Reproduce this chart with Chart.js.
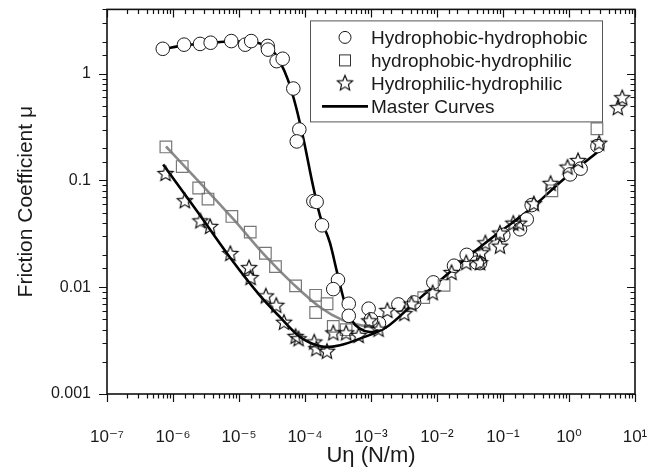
<!DOCTYPE html>
<html>
<head>
<meta charset="utf-8">
<script src="https://cdn.jsdelivr.net/npm/chart.js@4.4.1/dist/chart.umd.min.js"></script>
<style>
  html, body { margin: 0; padding: 0; background: #ffffff; }
  #wrap { width: 663px; height: 473px; position: relative; }
</style>
</head>
<body>
<div id="wrap"><canvas id="c" width="663" height="473"></canvas></div>
<script>
// ---------- data ----------
const seriesNames = ['Hydrophobic-hydrophobic', 'hydrophobic-hydrophilic', 'Hydrophilic-hydrophilic', 'Master Curves'];

const phobicPhobic = [
  [7.0e-7,1.71],[1.47e-6,1.87],[2.57e-6,1.90],[3.72e-6,1.95],[7.64e-6,2.02],[1.24e-5,1.87],
  [1.53e-5,2.02],[2.72e-5,1.82],[2.75e-5,1.68],[3.72e-5,1.31],[4.59e-5,1.38],[6.65e-5,0.726],
  [8.2e-5,0.300],[7.5e-5,0.232],[1.34e-4,0.064],[1.50e-4,0.063],[1.81e-4,0.038],[3.16e-4,0.0117],
  [2.68e-4,0.0096],[4.6e-4,0.0070],[4.6e-4,0.0054],[9.2e-4,0.0063],[1.32e-3,0.0046],[1.0e-3,0.0050],
  [2.6e-3,0.0069],[4.5e-3,0.0072],[8.8e-3,0.0111],[0.0181,0.0159],[0.0282,0.0201],[0.0449,0.0168],
  [0.040,0.0170],[0.101,0.0309],[0.181,0.0349],[0.229,0.0432],[0.272,0.0588],[1.04,0.114],
  [1.50,0.129],[2.7,0.21]
];

const phobicPhilic = [
  [7.8e-7,0.206],[1.38e-6,0.135],[2.45e-6,0.085],[3.39e-6,0.067],[7.8e-6,0.046],[1.48e-5,0.0328],
  [2.51e-5,0.0208],[3.57e-5,0.0156],[7.2e-5,0.0103],[1.45e-4,0.0084],[2.16e-4,0.0070],[1.45e-4,0.0058],
  [2.68e-4,0.0043],[4.2e-4,0.0040],[6.3e-3,0.0080],[0.0128,0.0104],[0.55,0.08],[2.65,0.305]
];

const philicPhilic = [
  [7.7e-7,0.115],[1.51e-6,0.064],[2.6e-6,0.0414],[3.65e-6,0.0367],[7.4e-6,0.0205],[1.42e-5,0.0151],
  [1.5e-5,0.0122],[2.55e-5,0.0082],[3.67e-5,0.0067],[4.8e-5,0.00465],[7.2e-5,0.00343],[8.0e-5,0.00326],
  [1.38e-4,0.00304],[1.49e-4,0.00263],[2.15e-4,0.00249],[2.68e-4,0.0037],[4.2e-4,0.0037],[6.5e-4,0.0035],
  [9.4e-4,0.0048],[1.3e-3,0.0040],[1.77e-3,0.0060],[3.2e-3,0.0056],[4.1e-3,0.0069],[8.6e-3,0.0088],
  [0.0166,0.0136],[0.0277,0.0168],[0.045,0.0168],[0.0464,0.0208],[0.054,0.0258],[0.090,0.024],
  [0.090,0.0318],[0.143,0.0394],[0.175,0.0394],[0.293,0.060],[0.526,0.093],[0.95,0.132],
  [1.37,0.152],[2.86,0.221],[5.5,0.476],[6.4,0.590]
];

const masterPhobic = [
  [7.05e-7,1.70],[1.52e-6,1.85],[3.64e-6,1.94],[7.3e-6,2.0],[1.47e-5,2.0],[2.23e-5,1.89],
  [3.16e-5,1.67],[4.18e-5,1.29],[5.52e-5,0.875],[7.3e-5,0.49],[9.66e-5,0.232],[1.28e-4,0.098],
  [1.69e-4,0.0465],[2.39e-4,0.026],[3.02e-4,0.0143],[4.04e-4,0.00698],[5.1e-4,0.00489],
  [6.8e-4,0.00409],[9.7e-4,0.0038],[1.73e-3,0.00424]
];

const masterMixed = [
  [7.83e-7,0.208],[2.57e-6,0.095],[8.1e-6,0.0438],[2.63e-5,0.019],[6.65e-5,0.0107],
  [1.69e-4,0.0065],[3.8e-4,0.00489],[6.07e-4,0.00449],[1.03e-3,0.00421]
];

const masterPhilic = [
  [7.1e-7,0.141],[2.29e-6,0.052],[7.3e-6,0.019],[2.08e-5,0.00835],[4.18e-5,0.00525],[8.4e-5,0.00342],
  [1.50e-4,0.00286],[2.13e-4,0.00275],[3.39e-4,0.00286],[6.8e-4,0.0033],[1.73e-3,0.00424],
  [4.38e-3,0.00699],[0.025,0.0177],[0.080,0.0313],[0.256,0.0536],[0.82,0.102],[2.78,0.187]
];

const xRange = [1e-7, 1e1];
const yRange = [1e-3, 4];
const yTickLabels = { '-3': '0.001', '-2': '0.01', '-1': '0.1', '0': '1' };
const xTitle = 'Uη (N/m)';
const yTitle = 'Friction Coefficient μ';

// ---------- helpers ----------
const toPts = arr => arr.map(p => ({ x: p[0], y: p[1] }));
const isPow10 = v => { const l = Math.log10(v); return Math.abs(l - Math.round(l)) < 1e-6; };
const SUP = { '-': '⁻', '0': '⁰', '1': '¹', '2': '²', '3': '³', '4': '⁴', '5': '⁵', '6': '⁶', '7': '⁷', '8': '⁸', '9': '⁹' };
const supStr = s => String(s).split('').map(ch => SUP[ch] || ch).join('');

function makeStar(r, color) {
  const s = Math.ceil(r * 2 + 4);
  const cv = document.createElement('canvas');
  cv.width = s; cv.height = s;
  const g = cv.getContext('2d');
  g.beginPath();
  for (let i = 0; i < 10; i++) {
    const rr = (i % 2 === 0) ? r : r * 0.45;
    const a = -Math.PI / 2 + i * Math.PI / 5;
    const px = s / 2 + rr * Math.cos(a), py = s / 2 + rr * Math.sin(a);
    if (i === 0) g.moveTo(px, py); else g.lineTo(px, py);
  }
  g.closePath();
  g.lineWidth = 1.15;
  g.strokeStyle = color;
  g.stroke();
  return cv;
}
const starImg = makeStar(8, '#0d0d0d');

const FONT = "'Liberation Sans', Arial, 'DejaVu Sans', sans-serif";
const GRAY = '#8a8a8a';

// ---------- plugins ----------
const frameTicks = {
  id: 'frameTicks',
  afterDraw(chart) {
    const ctx = chart.ctx, a = chart.chartArea;
    const xs = chart.scales.x, ys = chart.scales.y;
    ctx.save();
    ctx.strokeStyle = '#111';
    ctx.lineWidth = 1.2;
    ctx.beginPath();
    xs.ticks.forEach(t => {
      const px = Math.round(xs.getPixelForValue(t.value)) + 0.5;
      const len = isPow10(t.value) ? 8 : 4.5;
      ctx.moveTo(px, a.bottom); ctx.lineTo(px, a.bottom + len);
      ctx.moveTo(px, a.top); ctx.lineTo(px, a.top + len);
    });
    ys.ticks.forEach(t => {
      const py = Math.round(ys.getPixelForValue(t.value)) + 0.5;
      const len = isPow10(t.value) ? 8 : 4.5;
      ctx.moveTo(a.left - len, py); ctx.lineTo(a.left, py);
      ctx.moveTo(a.right - len, py); ctx.lineTo(a.right, py);
    });
    ctx.stroke();
    ctx.lineWidth = 1.6;
    ctx.strokeRect(a.left, a.top, a.right - a.left, a.bottom - a.top);
    ctx.restore();
  }
};

const boxLegend = {
  id: 'boxLegend',
  afterDraw(chart) {
    const ctx = chart.ctx, a = chart.chartArea;
    const bx = a.left + 203, by = a.top + 11, bw = 292, bh = 101;
    ctx.save();
    ctx.fillStyle = '#fff';
    ctx.fillRect(bx, by, bw, bh);
    ctx.strokeStyle = '#555';
    ctx.lineWidth = 1;
    ctx.strokeRect(bx + 0.5, by + 0.5, bw, bh);
    const rows = [by + 17, by + 40, by + 63, by + 86];
    const symX = bx + 35, textX = bx + 61;
    ctx.beginPath(); ctx.arc(symX, rows[0], 6, 0, Math.PI * 2);
    ctx.strokeStyle = '#1a1a1a'; ctx.lineWidth = 1; ctx.stroke();
    ctx.strokeStyle = '#333'; ctx.strokeRect(symX - 5.5, rows[1] - 5.5, 11, 11);
    ctx.drawImage(starImg, symX - starImg.width / 2, rows[2] - starImg.height / 2);
    ctx.beginPath(); ctx.moveTo(bx + 12, rows[3]); ctx.lineTo(bx + 58, rows[3]);
    ctx.strokeStyle = '#000'; ctx.lineWidth = 2.6; ctx.stroke();
    ctx.fillStyle = '#1a1a1a';
    ctx.font = '19px ' + FONT;
    ctx.textBaseline = 'middle';
    ctx.textAlign = 'left';
    seriesNames.forEach((n, i) => ctx.fillText(n, textX, rows[i] + 1));
    ctx.restore();
  }
};

// ---------- chart ----------
new Chart(document.getElementById('c'), {
  type: 'scatter',
  data: {
    datasets: [
      { label: seriesNames[0], data: toPts(phobicPhobic), pointStyle: 'circle', pointRadius: 6.8,
        borderColor: '#1a1a1a', backgroundColor: '#ffffff', borderWidth: 1, order: 2 },
      { label: seriesNames[1], data: toPts(phobicPhilic), pointStyle: 'rect', pointRadius: 8.2,
        borderColor: '#777', backgroundColor: 'rgba(0,0,0,0)', borderWidth: 1.2, order: 1 },
      { label: seriesNames[2], data: toPts(philicPhilic), pointStyle: starImg, pointRadius: 8,
        borderColor: '#1a1a1a', backgroundColor: 'rgba(0,0,0,0)', order: 0 },
      { label: seriesNames[3], data: toPts(masterMixed), showLine: true, pointRadius: 0,
        borderColor: GRAY, borderWidth: 2.6, cubicInterpolationMode: 'monotone', order: 12 },
      { label: seriesNames[3], data: toPts(masterPhobic), showLine: true, pointRadius: 0,
        borderColor: '#000', borderWidth: 2.6, cubicInterpolationMode: 'monotone', order: 10 },
      { label: seriesNames[3], data: toPts(masterPhilic), showLine: true, pointRadius: 0,
        borderColor: '#000', borderWidth: 2.6, cubicInterpolationMode: 'monotone', order: 11 }
    ]
  },
  options: {
    responsive: false,
    animation: false,
    devicePixelRatio: 1,
    layout: { padding: { left: 0, right: 28, top: 6, bottom: 0 } },
    plugins: { legend: { display: false }, tooltip: { enabled: false } },
    scales: {
      x: {
        type: 'logarithmic', min: xRange[0], max: xRange[1],
        grid: { display: false, drawTicks: false },
        border: { display: false },
        afterFit: s => { s.height = 79; s.paddingLeft = 0; s.paddingRight = 0; },
        ticks: {
          autoSkip: false, maxRotation: 0, padding: 33, color: '#1a1a1a',
          font: { family: FONT, size: 17 },
          callback: v => isPow10(v) ? '10' + supStr(Math.round(Math.log10(v))) : ''
        },
        title: { display: true, text: xTitle, color: '#1a1a1a', font: { family: FONT, size: 22 },
          padding: { top: 0, bottom: 4 } }
      },
      y: {
        type: 'logarithmic', min: yRange[0], max: yRange[1],
        grid: { display: false, drawTicks: false },
        border: { display: false },
        afterFit: s => { s.width = 107; s.paddingTop = 0; s.paddingBottom = 0; },
        ticks: {
          autoSkip: false, padding: 16, color: '#1a1a1a',
          font: { family: FONT, size: 16 },
          callback: v => isPow10(v) ? (yTickLabels[String(Math.round(Math.log10(v)))] || '') : ''
        },
        title: { display: true, text: yTitle, color: '#1a1a1a', font: { family: FONT, size: 21 },
          padding: { top: 14, bottom: 0 } }
      }
    }
  },
  plugins: [frameTicks, boxLegend]
});
</script>
</body>
</html>
